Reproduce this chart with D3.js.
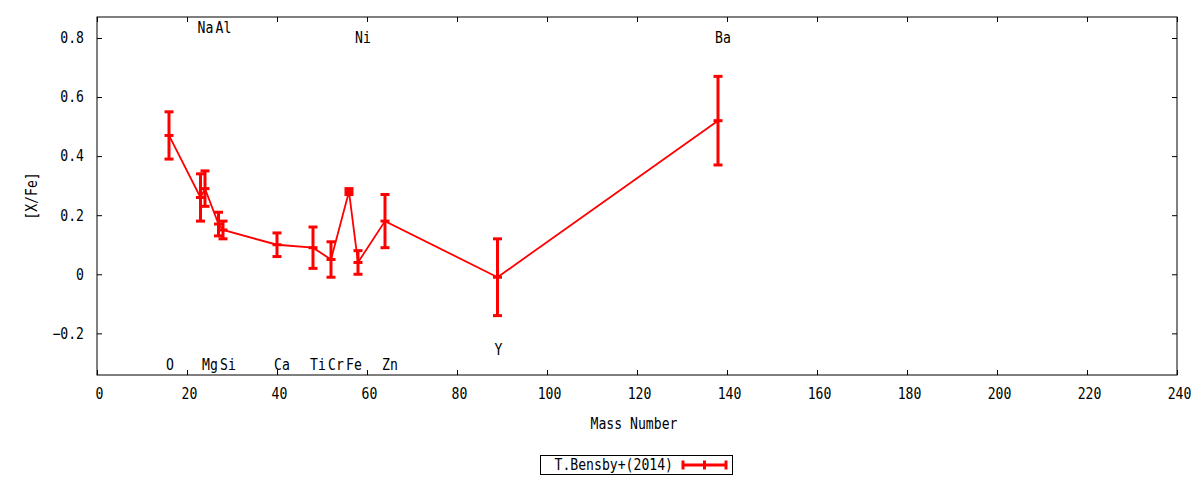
<!DOCTYPE html>
<html lang="en">
<head>
  <meta charset="UTF-8">
  <title>[X/Fe] vs Mass Number</title>
  <script src="https://d3js.org/d3.v7.min.js"></script>
  <style>
    body { margin: 0; background: #fff; overflow: hidden; }
    text { font-family: "DejaVu Sans Mono", monospace; font-size: 15px; fill: #000; }
  </style>
</head>
<body>
<svg id="chart" width="1200" height="480"></svg>
<script>
// abundance data, T.Bensby+(2014)
const elements = ["O", "Na", "Mg", "Al", "Si", "Ca", "Ti", "Cr", "Fe", "Ni", "Zn", "Y", "Ba"];
const massNumber = [16, 23, 24, 27, 28, 40, 48, 52, 56, 58, 64, 89, 138];
const xFe = [0.47, 0.26, 0.29, 0.17, 0.15, 0.10, 0.09, 0.05, 0.28, 0.04, 0.18, -0.01, 0.52];
const xFeErr = [0.08, 0.08, 0.06, 0.04, 0.03, 0.04, 0.07, 0.06, 0.01, 0.04, 0.09, 0.13, 0.15];

// element labels: y position in [X/Fe] units
const labelY = [-0.305, 0.835, -0.305, 0.835, -0.305, -0.305, -0.305, -0.305, -0.305, 0.80, -0.305, -0.255, 0.80];

const xTicks = d3.range(0, 241, 20);
const yTicks = [-0.2, 0, 0.2, 0.4, 0.6, 0.8];
const seriesName = "T.Bensby+(2014)";

const margin = { top: 17, right: 23, bottom: 105, left: 97 };
const width = 1200, height = 480;
const svg = d3.select("#chart");

const x = d3.scaleLinear().domain([0, 240]).range([margin.left, width - margin.right]);
const y = d3.scaleLinear().domain([-0.341, 0.871]).range([height - margin.bottom, margin.top]);

const red = "#ff0000";
const charW = 7.9; // narrow terminal font
const data = elements.map((el, i) => ({ el, m: massNumber[i], v: xFe[i], e: xFeErr[i], ly: labelY[i] }));

// squeeze the mono font to the narrow look of the original
function narrow(sel) {
  sel.style("font-family", "DejaVu Sans Mono").style("font-size", "15px")
    .each(function () {
      const n = this.textContent.length;
      if (n) d3.select(this).attr("textLength", n * charW).attr("lengthAdjust", "spacingAndGlyphs");
    });
}

// axes, ticks pointing inward
svg.append("g")
  .attr("transform", `translate(0,${y.range()[0]})`)
  .call(d3.axisBottom(x).tickValues(xTicks).tickSize(-5).tickPadding(13))
  .call(g => g.select(".domain").remove())
  .call(g => g.selectAll("text").attr("dx", 2));

svg.append("g")
  .attr("transform", `translate(0,${y.range()[1]})`)
  .call(d3.axisTop(x).tickValues(xTicks).tickSize(-5).tickFormat(""))
  .call(g => g.select(".domain").remove());

svg.append("g")
  .attr("transform", `translate(${x.range()[0]},0)`)
  .call(d3.axisLeft(y).tickValues(yTicks).tickSize(-5).tickPadding(13)
    .tickFormat(d => d === 0 ? "0" : d3.format(".1f")(d)))
  .call(g => g.select(".domain").remove());

svg.append("g")
  .attr("transform", `translate(${x.range()[1]},0)`)
  .call(d3.axisRight(y).tickValues(yTicks).tickSize(-5).tickFormat(""))
  .call(g => g.select(".domain").remove());

svg.selectAll(".tick line").attr("stroke", "#000");
svg.selectAll(".tick text").call(narrow);

svg.append("rect")
  .attr("x", x.range()[0]).attr("y", y.range()[1])
  .attr("width", x.range()[1] - x.range()[0])
  .attr("height", y.range()[0] - y.range()[1])
  .attr("fill", "none").attr("stroke", "#000");

// axis titles
svg.append("text")
  .attr("x", (x.range()[0] + x.range()[1]) / 2 - 3)
  .attr("y", 429)
  .attr("text-anchor", "middle")
  .text("Mass Number")
  .call(narrow);

svg.append("text")
  .attr("transform", `translate(37,${(y.range()[0] + y.range()[1]) / 2}) rotate(-90)`)
  .attr("text-anchor", "middle")
  .text("[X/Fe]")
  .call(narrow);

// element labels
svg.append("g").selectAll("text")
  .data(data)
  .join("text")
  .attr("x", d => x(d.m) - 3)
  .attr("y", d => y(d.ly))
  .attr("dy", "0.35em")
  .text(d => d.el)
  .call(narrow);

// connecting line
svg.append("path")
  .datum(data)
  .attr("fill", "none")
  .attr("stroke", red)
  .attr("stroke-width", 1.8)
  .attr("d", d3.line().x(d => x(d.m)).y(d => y(d.v)));

// error bars
const bars = svg.append("g").attr("stroke", red).attr("stroke-width", 3);
const cap = 4.5;
data.forEach(d => {
  const cx = x(d.m);
  bars.append("line").attr("x1", cx).attr("x2", cx).attr("y1", y(d.v - d.e)).attr("y2", y(d.v + d.e));
  [d.v - d.e, d.v, d.v + d.e].forEach(v => {
    bars.append("line").attr("x1", cx - cap).attr("x2", cx + cap).attr("y1", y(v)).attr("y2", y(v));
  });
});

// legend
const lg = svg.append("g");
lg.append("rect")
  .attr("x", 540.5).attr("y", 455.5).attr("width", 192).attr("height", 19)
  .attr("fill", "none").attr("stroke", "#000");
lg.append("text")
  .attr("x", 673).attr("y", 465).attr("dy", "0.35em")
  .attr("text-anchor", "end")
  .text(seriesName)
  .call(narrow);
lg.append("line").attr("x1", 683).attr("x2", 726).attr("y1", 465).attr("y2", 465)
  .attr("stroke", red).attr("stroke-width", 3);
[683, 704.5, 726].forEach(px => {
  lg.append("line").attr("x1", px).attr("x2", px).attr("y1", 460.5).attr("y2", 469.5)
    .attr("stroke", red).attr("stroke-width", 3);
});
</script>
</body>
</html>
